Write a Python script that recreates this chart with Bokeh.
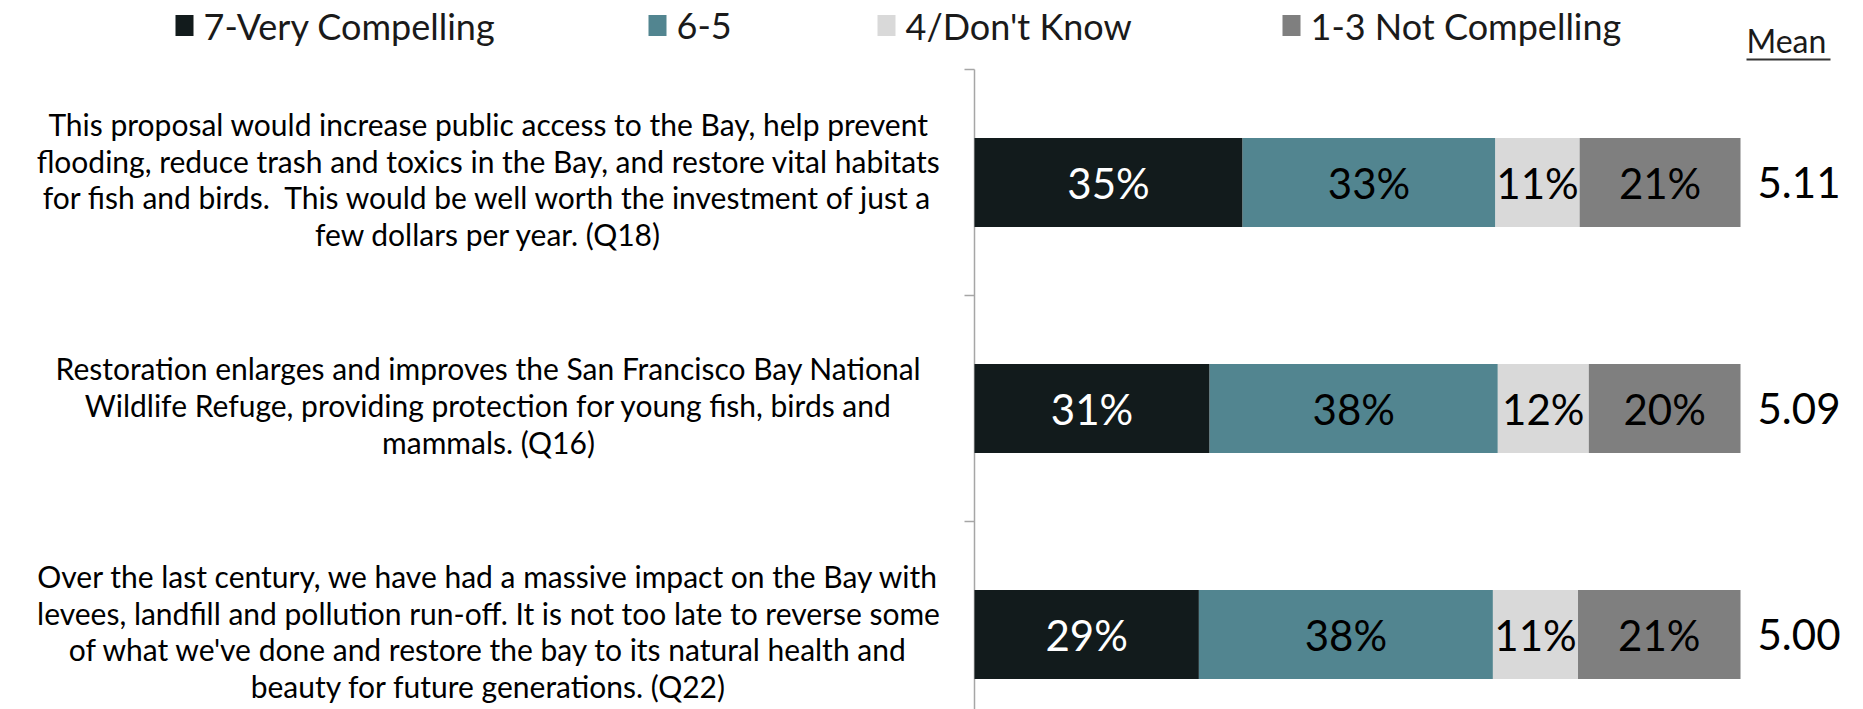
from bokeh.plotting import figure
from bokeh.models import Range1d
from bokeh.core.properties import value
from bokeh.embed import file_html
from bokeh.resources import INLINE
import math

# ---------------- data ----------------
statements = [
    "This proposal would increase public access to the Bay, help prevent\nflooding, reduce trash and toxics in the Bay, and restore vital habitats\nfor fish and birds.\u00a0 This would be well worth the investment of just a\nfew dollars per year. (Q18)",
    "Restoration enlarges and improves the San Francisco Bay National\nWildlife Refuge, providing protection for young fish, birds and\nmammals. (Q16)",
    "Over the last century, we have had a massive impact on the Bay with\nlevees, landfill and pollution run-off. It is not too late to reverse some\nof what we've done and restore the bay to its natural health and\nbeauty for future generations. (Q22)",
]
series_names = ["7-Very Compelling", "6-5", "4/Don't Know", "1-3 Not Compelling"]
very_compelling = [35, 31, 29]
six_five = [33, 38, 38]
dont_know = [11, 12, 11]
not_compelling = [21, 20, 21]
means = ["5.11", "5.09", "5.00"]

# ---------------- style ----------------
colors = ["#121b1c", "#528590", "#d9d9d9", "#7f7f7f"]
label_colors = ["#ffffff", "#000000", "#000000", "#000000"]
FONT = value("Lato")

W, H = 1863, 709
AXIS_PX = 974          # pixel position of value 0
PX_PER_UNIT = 7.66     # pixels per percentage point
TOP_PX = 69            # pixel of the top category boundary
BAND_PX = 226          # pixels per category band

x_start = -AXIS_PX / PX_PER_UNIT
x_end = (W - AXIS_PX) / PX_PER_UNIT
y_end = 3 + TOP_PX / BAND_PX
y_start = y_end - H / BAND_PX

def dx(px):
    return (px - AXIS_PX) / PX_PER_UNIT

def dy(py):
    return y_end - py / BAND_PX

p = figure(width=W, height=H, x_range=Range1d(x_start, x_end), y_range=Range1d(y_start, y_end),
           output_backend="svg", toolbar_location=None, min_border=0)
p.axis.visible = False
p.grid.visible = False
p.outline_line_color = None
p.background_fill_color = "white"

n = len(statements)
ypos = [n - i - 0.5 for i in range(n)]
series = [very_compelling, six_five, dont_know, not_compelling]

# axis line and ticks
p.segment(x0=[0], y0=[y_start], x1=[0], y1=[n], line_color="#a6a6a6", line_width=1.5)
p.ray(x=[0] * n, y=[k + 1 for k in range(n)], length=10, length_units="screen",
      angle=math.pi, line_color="#a6a6a6", line_width=1.5)

# stacked bars
for r in range(n):
    total = sum(s[r] for s in series)
    left = 0.0
    for k, s in enumerate(series):
        w = s[r] / total * 100
        p.hbar(y=[ypos[r]], left=[left], right=[left + w], height=0.394,
               fill_color=colors[k], line_color=None)
        p.text(x=[left + w / 2], y=[ypos[r]], text=[f"{s[r]}%"], text_font=FONT,
               text_font_size="42px", text_color=label_colors[k],
               text_align="center", text_baseline="middle")
        left += w
    p.text(x=[dx(1757)], y=[ypos[r]], text=[means[r]], text_font=FONT,
           text_font_size="42px", text_color="#000000",
           text_align="left", text_baseline="middle")
    p.text(x=[dx(488)], y=[ypos[r] + 0.015], text=[statements[r]], text_font=FONT,
           text_font_size="30px", text_color="#000000", text_line_height=1.02,
           text_align="center", text_baseline="middle")

# legend
legend_sq_px = [175, 648, 877, 1282]
ly = dy(25)
for k, name in enumerate(series_names):
    p.rect(x=[dx(legend_sq_px[k] + 9)], y=[ly], width=18, height=21,
           width_units="screen", height_units="screen",
           fill_color=colors[k], line_color=None)
    p.text(x=[dx(legend_sq_px[k] + 28)], y=[ly], text=[name], text_font=FONT,
           text_font_size="36px", text_color="#1a1a1a",
           text_align="left", text_baseline="middle")

# Mean header
p.text(x=[dx(1746)], y=[dy(40)], text=["Mean"], text_font=FONT,
       text_font_size="32px", text_color="#1a1a1a",
       text_align="left", text_baseline="middle")
p.segment(x0=[dx(1746)], y0=[dy(59)], x1=[dx(1830)], y1=[dy(59)],
          line_color="#333333", line_width=2)

open("out.html", "w").write(file_html(p, INLINE))
